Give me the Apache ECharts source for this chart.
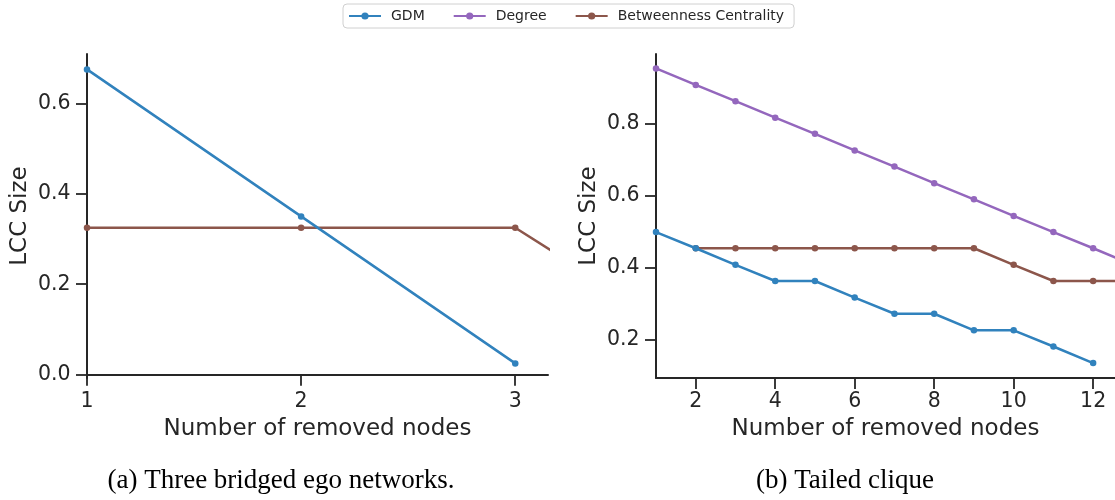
<!DOCTYPE html>
<html>
<head>
<meta charset="utf-8">
<script src="https://cdn.jsdelivr.net/npm/echarts@6/dist/echarts.min.js"></script>
<style>
html,body{margin:0;padding:0;background:#fff;}
#chart{width:1115px;height:500px;}
</style>
</head>
<body>
<div id="chart"></div>
<script>
// ---- data ----
const seriesNames = ['GDM', 'Degree', 'Betweenness Centrality'];
const colors = ['#3182bd', '#9467bd', '#8c564b'];

// (a) Three bridged ego networks
const leftX = [1, 2, 3, 4];
const leftGDM = [0.675, 0.35, 0.025];
const leftBetweenness = [0.325, 0.325, 0.325, 0.025];

// (b) Tailed clique
const rightX = [1, 2, 3, 4, 5, 6, 7, 8, 9, 10, 11, 12, 13];
const rightGDM = [0.5, 0.455, 0.409, 0.364, 0.364, 0.318, 0.273, 0.273, 0.227, 0.227, 0.182, 0.136];
const rightDegree = [0.955, 0.909, 0.864, 0.818, 0.773, 0.727, 0.682, 0.636, 0.591, 0.545, 0.5, 0.455, 0.409];
const rightBetweennessX = [2, 3, 4, 5, 6, 7, 8, 9, 10, 11, 12, 13];
const rightBetweenness = [0.455, 0.455, 0.455, 0.455, 0.455, 0.455, 0.455, 0.455, 0.409, 0.364, 0.364, 0.364];

const leftXTicks = [1, 2, 3];
const leftYTicks = [0.0, 0.2, 0.4, 0.6];
const rightXTicks = [2, 4, 6, 8, 10, 12];
const rightYTicks = [0.2, 0.4, 0.6, 0.8];

const xName = 'Number of removed nodes';
const yName = 'LCC Size';
const captionA = '(a) Three bridged ego networks.';
const captionB = '(b) Tailed clique';

// ---- helpers ----
const zip = (xs, ys) => ys.map((y, i) => [xs[i], y]);
const axisColor = '#262626';
const FONT = 'DejaVu Sans';

function xAxis(gridIndex, min, max, ticks) {
  return {
    type: 'value', gridIndex, min, max,
    name: xName, nameLocation: 'middle', nameGap: 40,
    nameTextStyle: { fontFamily: FONT, fontSize: 23, color: axisColor },
    axisLine: { show: true, lineStyle: { color: axisColor, width: 2 } },
    axisTick: { show: true, length: 11, lineStyle: { color: axisColor, width: 1.8 }, customValues: ticks },
    axisLabel: { customValues: ticks, fontFamily: FONT, fontSize: 20.5, color: axisColor, margin: 13,
      formatter: v => String(Math.round(v)) },
    splitLine: { show: false }
  };
}
function yAxis(gridIndex, min, max, ticks) {
  return {
    type: 'value', gridIndex, min, max,
    name: yName, nameLocation: 'middle', nameGap: 55,
    nameTextStyle: { fontFamily: FONT, fontSize: 23, color: axisColor },
    axisLine: { show: true, lineStyle: { color: axisColor, width: 2 } },
    axisTick: { show: true, length: 11, lineStyle: { color: axisColor, width: 1.8 }, customValues: ticks },
    axisLabel: { customValues: ticks, fontFamily: FONT, fontSize: 20.5, color: axisColor, margin: 16.5,
      formatter: v => v.toFixed(1) },
    splitLine: { show: false }
  };
}
function line(name, xi, data, z) {
  const c = colors[seriesNames.indexOf(name)];
  return {
    type: 'line', name, xAxisIndex: xi, yAxisIndex: xi, data, z,
    symbol: 'circle', symbolSize: 6.5, showSymbol: true, clip: true,
    itemStyle: { color: c },
    lineStyle: { color: c, width: 2.5 },
    emphasis: { disabled: true }
  };
}

const chart = echarts.init(document.getElementById('chart'), null, { renderer: 'canvas' });
chart.setOption({
  animation: false,
  backgroundColor: '#ffffff',
  legend: {
    data: seriesNames,
    left: 343, top: 4,
    padding: [5, 10, 5, 5],
    itemWidth: 32, itemHeight: 9, itemGap: 28,
    borderColor: '#d0d0d0', borderWidth: 1, borderRadius: 4,
    textStyle: { fontFamily: FONT, fontSize: 14, color: axisColor, padding: [0, 0, 0, 5] }
  },
  grid: [
    { left: 87, top: 54, width: 461, height: 324 },
    { left: 656, top: 54, width: 459, height: 324 }
  ],
  xAxis: [xAxis(0, 1, 3.153, leftXTicks), xAxis(1, 1, 12.55, rightXTicks)],
  yAxis: [yAxis(0, -0.0073, 0.709, leftYTicks), yAxis(1, 0.0944, 0.995, rightYTicks)],
  series: [
    line('GDM', 0, zip(leftX, leftGDM), 3),
    line('Betweenness Centrality', 0, zip(leftX, leftBetweenness), 2),
    line('GDM', 1, zip(rightX, rightGDM), 3),
    line('Degree', 1, zip(rightX, rightDegree), 2),
    line('Betweenness Centrality', 1, zip(rightBetweennessX, rightBetweenness), 2)
  ],
  graphic: [
    { type: 'text', x: 281, y: 481, style: { text: captionA, font: '27px "Liberation Serif"', fill: '#000', textAlign: 'center', textVerticalAlign: 'middle' } },
    { type: 'text', x: 845, y: 481, style: { text: captionB, font: '27px "Liberation Serif"', fill: '#000', textAlign: 'center', textVerticalAlign: 'middle' } }
  ]
});
</script>
</body>
</html>
